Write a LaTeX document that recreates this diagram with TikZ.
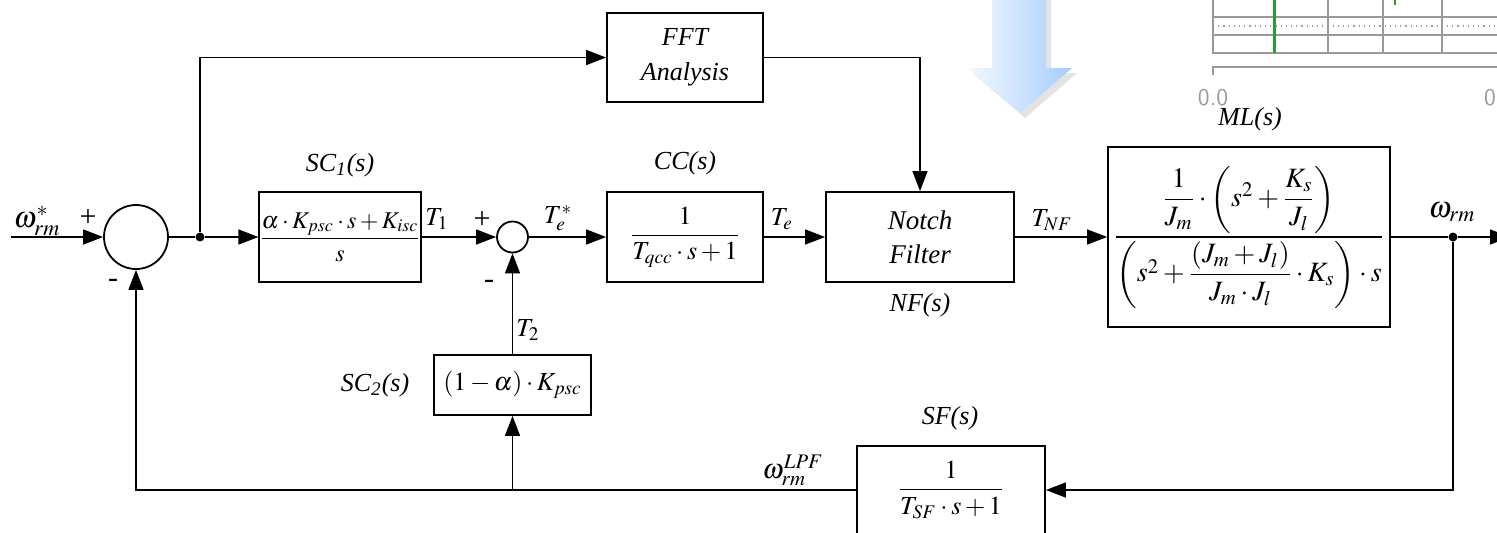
\documentclass[tikz,border=0pt]{standalone}
\usepackage{amsmath}
\usepackage{mathptmx}
\usepackage[no-math]{fontspec}
\setmainfont{Liberation Serif}
\usetikzlibrary{arrows.meta}
\definecolor{arrowl}{HTML}{F2F8FF}
\definecolor{arrowr}{HTML}{A6CDFC}
\definecolor{chartgray}{HTML}{9A9A9A}
\definecolor{chartgreen}{HTML}{2E9B2E}
\begin{document}
\begin{tikzpicture}[x = .5pt, y = -.5pt, line width = .7pt,
    font = \fontsize{13}{17}\selectfont,
    >={Triangle[length = 10pt, width = 7.5pt]},
    block/.style = {draw, line width = .9pt, align = center, inner sep = 0pt},
    sum/.style = {draw, circle, line width = .9pt, inner sep = 0pt},
    lbl/.style = {font = \fontsize{13}{15}\selectfont\itshape},
    sgn/.style = {font = \fontsize{15}{17}\selectfont},
    dot/.style = {circle, fill, inner sep = 0pt, minimum size = 4.5pt}]
  \fill [white] (0,0) rectangle (1497,532);
  \useasboundingbox (0,0) rectangle (1497,532);
  \clip (0,0) rectangle (1497,532);
  % pieces of other figures at the top
  \fill [gray!22] (997,-5) -- (1051,-5) -- (1051,73) -- (1077,73) -- (1025,118)
    -- (973,73) -- (997,73) -- cycle;
  \shade [left color = arrowl, right color = arrowr] (992,-5) -- (1046,-5)
    -- (1046,68) -- (1072,68) -- (1020,113) -- (968,68) -- (992,68) -- cycle;
  \begin{scope}[draw = chartgray, line width = .75pt]
    \draw (1213,-5) -- (1213,53) -- (1505,53);
    \draw [line width = .6pt] (1213,17) -- (1505,17) (1213,35) -- (1505,35);
    \draw [dotted, line width = .6pt] (1213,26) -- (1505,26);
    \foreach \x in {1328,1383,1442}
      \draw [line width = .6pt] (\x,-5) -- (\x,53);
    \draw (1213,75) -- (1213,67) -- (1505,67);
  \end{scope}
  \draw [chartgreen, line width = 1.5pt] (1274,-5) -- (1274,53);
  \draw [chartgreen, line width = 1pt] (1395,-5) -- (1395,5);
  \node [chartgray, font = \sffamily\fontsize{12}{14}\selectfont] (tick0) at (1213,98) {0.0};
  \node [chartgray, font = \sffamily\fontsize{12}{14}\selectfont] (tick1) at (1499,98) {0.0};

  % blocks
  \node [sum, minimum size = 32pt] (S1) at (136,237) {};
  \node [sum, minimum size = 15.5pt] (S2) at (512.5,237) {};
  \node [block, minimum width = 78pt, minimum height = 44.5pt, font = \fontsize{13}{17.5}\selectfont\itshape]
    (FFT) at (685,57.5) {FFT\\Analysis};
  \node [block, minimum width = 78pt, minimum height = 45pt, font = \fontsize{12}{14}\selectfont]
    (SC1) at (340,237) {$\dfrac{\alpha\cdot K_{psc}\cdot s+K_{isc}}{s}$};
  \node [block, minimum width = 78pt, minimum height = 45pt] (CC) at (685,237)
    {$\dfrac{1}{T_{qcc}\cdot s+1}$};
  \node [block, minimum width = 94pt, minimum height = 45pt, font = \fontsize{13.5}{17}\selectfont\itshape]
    (Notch) at (920,237) {Notch\\Filter};
  \node [block, minimum width = 141pt, minimum height = 90pt, font = \fontsize{14}{17}\selectfont]
    (ML) at (1249,237)
    {$\dfrac{\dfrac{1}{J_m}\cdot\left(s^2+\dfrac{K_s}{J_l}\right)}
      {\left(s^2+\dfrac{(J_m+J_l)}{J_m\cdot J_l}\cdot K_s\right)\cdot s}$};
  \node [block, minimum width = 78.5pt, minimum height = 30pt] (SC2) at (512.5,385)
    {$\left(1-\alpha\right)\cdot K_{psc}$};
  \node [block, minimum width = 94pt, minimum height = 44pt] (SF) at (951,490)
    {$\dfrac{1}{T_{SF}\cdot s+1}$};

  \node [dot] (j1) at (200,237) {};
  \node [dot] (j2) at (1453,237) {};
  \coordinate (in) at (11,237);
  \coordinate (out) at (1510,237);
  \coordinate (c2) at (512.5,490);

  % connectors
  \draw [->] (in) -- (S1);
  \draw (S1) -- (j1);
  \draw [->] (j1) -- (SC1);
  \draw [->] (j1) |- (FFT);
  \draw [->] (FFT) -| (Notch);
  \draw [->] (SC1) -- (S2);
  \draw [->] (S2) -- (CC);
  \draw [->] (CC) -- (Notch);
  \draw [->] (Notch) -- (ML);
  \draw (ML) -- (j2);
  \draw [->] (j2) -- (out);
  \draw [->] (j2) |- (SF);
  \draw [->] (SF) -| (S1);
  \draw [->] (c2) -- (SC2);
  \draw [->] (SC2) -- (S2);

  % labels
  \node [font = \fontsize{15}{17}\selectfont] (wref) at (37,221) {$\omega_{rm}^{*}$};
  \node [sgn] (p1) at (88,218) {+};
  \node [sgn] (m1) at (113,283) {-};
  \node [lbl] (lsc1) at (340,165) {SC\textsubscript{1}(s)};
  \node (lt1) at (437,219) {$T_1$};
  \node [sgn] (p2) at (482,220) {+};
  \node [sgn] (m2) at (489,284) {-};
  \node (lte) at (558,218) {$T_e^{*}$};
  \node [lbl] (lcc) at (685,163) {CC(s)};
  \node (lte2) at (782,219) {$T_e$};
  \node [lbl] (lnf) at (920,305) {NF(s)};
  \node (ltnf) at (1052,220) {$T_{NF}$};
  \node [lbl] (lml) at (1250,119) {ML(s)};
  \node [font = \fontsize{15}{17}\selectfont] (lw) at (1452,212) {$\omega_{rm}$};
  \node (lt2) at (528,330) {$T_2$};
  \node [lbl] (lsc2) at (375,385) {SC\textsubscript{2}(s)};
  \node [lbl] (lsf) at (950,418) {SF(s)};
  \node [font = \fontsize{14}{17}\selectfont] (lwl) at (793,470) {$\omega_{rm}^{LPF}$};
\end{tikzpicture}
\end{document}
